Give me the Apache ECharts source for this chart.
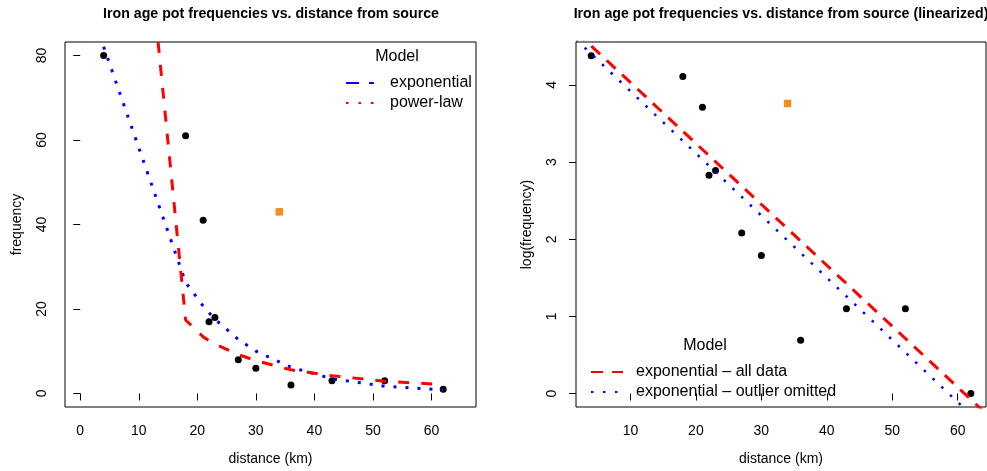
<!DOCTYPE html>
<html><head><meta charset="utf-8">
<script src="https://cdn.jsdelivr.net/npm/echarts@6/dist/echarts.min.js"></script>
<style>html,body{margin:0;padding:0;background:#fff}#c{width:987px;height:471px}</style>
</head><body><div id="c"></div>
<script>
// observed data (distance km, pot frequency)
const distance = [4, 18, 21, 22, 23, 27, 30, 36, 43, 52, 62];
const frequency = [80, 61, 41, 17, 18, 8, 6, 2, 3, 3, 1];
const logFrequency = [4.38, 4.11, 3.71, 2.83, 2.89, 2.08, 1.79, 0.69, 1.10, 1.10, 0];
// outlier
const outlierDistance = [34];
const outlierFrequency = [43];
const outlierLogFrequency = [3.76];
// fitted curves
const expCurveDistance = [4, 18, 21, 22, 23, 27, 30, 36, 43, 52, 62];
const expCurveFrequency = [82.1, 26.3, 20.7, 19.1, 17.6, 12.8, 10.0, 6.2, 3.5, 1.7, 0.85];
const powCurveDistance = [13.3, 18, 21, 22, 23, 27, 30, 34, 36, 43, 52, 62];
const powCurveFrequency = [83.2, 17.4, 13.4, 12.5, 11.7, 9.2, 7.8, 6.3, 5.6, 4.2, 2.9, 2.1];
// fitted straight lines (end points at the panel edges)
const fitAllDistance = [1.68, 64.32];
const fitAllLog = [4.69, -0.26];
const fitOmitDistance = [1.68, 64.32];
const fitOmitLog = [4.59, -0.46];
// tick labels
const xTicksLeft = [0, 10, 20, 30, 40, 50, 60];
const yTicksLeft = [0, 20, 40, 60, 80];
const xTicksRight = [10, 20, 30, 40, 50, 60];
const yTicksRight = [0, 1, 2, 3, 4];

const FONT = "'Liberation Sans', Arial, Helvetica, sans-serif";
const pairs = (xs, ys) => xs.map((x, i) => [x, ys[i]]);
const chart = echarts.init(document.getElementById('c'), null, {renderer: 'canvas'});

function axis(extra) {
  return Object.assign({
    type: 'value', axisLine: {show: false}, splitLine: {show: false},
    nameLocation: 'middle',
    nameTextStyle: {color: '#000', fontSize: 14, fontFamily: FONT}
  }, extra);
}
const lbl = (vals, extra) => Object.assign({customValues: vals, color: '#000', fontSize: 14, fontFamily: FONT}, extra);
const tk = (vals) => ({show: true, inside: false, length: 7, customValues: vals, lineStyle: {color: '#000', width: 1}});

const titleStyle = {fontSize: 14.2, fontWeight: 'bold', color: '#000', fontFamily: FONT};
const modelStyle = {fontSize: 16, fontWeight: 'normal', color: '#000', fontFamily: FONT};
const legendText = (pad) => ({fontSize: 16, color: '#000', fontFamily: FONT, padding: [0, 0, 0, pad]});
const hiddenSymbol = {color: 'transparent', borderWidth: 0, opacity: 0};

chart.setOption({
  animation: false,
  backgroundColor: '#fff',
  title: [
    {text: 'Iron age pot frequencies vs. distance from source', left: 271, top: 7, textAlign: 'center', padding: 0, textStyle: titleStyle},
    {text: 'Iron age pot frequencies vs. distance from source (linearized)', left: 781, top: 7, textAlign: 'center', padding: 0, textStyle: titleStyle},
    {text: 'Model', left: 397, top: 49, textAlign: 'center', padding: 0, textStyle: modelStyle},
    {text: 'Model', left: 705, top: 338, textAlign: 'center', padding: 0, textStyle: modelStyle}
  ],
  grid: [
    {left: 65, top: 42, width: 411, height: 367, show: true, borderColor: '#000', borderWidth: 1, backgroundColor: 'transparent'},
    {left: 576, top: 42, width: 410, height: 367, show: true, borderColor: '#000', borderWidth: 1, backgroundColor: 'transparent'}
  ],
  xAxis: [
    axis({gridIndex: 0, min: -2.6, max: 67.6, name: 'distance (km)', nameGap: 45,
      axisTick: tk(xTicksLeft), axisLabel: lbl(xTicksLeft, {margin: 17})}),
    axis({gridIndex: 1, min: 1.68, max: 64.32, name: 'distance (km)', nameGap: 45,
      axisTick: tk(xTicksRight), axisLabel: lbl(xTicksRight, {margin: 17})})
  ],
  yAxis: [
    axis({gridIndex: 0, min: -3.2, max: 83.2, name: 'frequency', nameGap: 41,
      axisTick: tk(yTicksLeft), axisLabel: lbl(yTicksLeft, {rotate: 90, margin: 16})}),
    axis({gridIndex: 1, min: -0.175, max: 4.557, name: 'log(frequency)', nameGap: 42,
      axisTick: tk(yTicksRight), axisLabel: lbl(yTicksRight, {rotate: 90, margin: 17})})
  ],
  legend: [
    {data: ['exponential', 'power-law'], orient: 'vertical', left: 345, top: 75, padding: 0,
      itemWidth: 28, itemHeight: 14, itemGap: 4, selectedMode: false,
      itemStyle: hiddenSymbol, textStyle: legendText(11)},
    {data: ['exponential \u2013 all data', 'exponential \u2013 outlier omitted'], orient: 'vertical', left: 590, top: 364, padding: 0,
      itemWidth: 32, itemHeight: 14, itemGap: 4, selectedMode: false,
      itemStyle: hiddenSymbol, textStyle: legendText(8)}
  ],
  series: [
    {type: 'scatter', name: 'sites', xAxisIndex: 0, yAxisIndex: 0, data: pairs(distance, frequency),
      symbol: 'circle', symbolSize: 7, itemStyle: {color: '#000', opacity: 1}, z: 2},
    {type: 'scatter', name: 'outlier', xAxisIndex: 0, yAxisIndex: 0, data: pairs(outlierDistance, outlierFrequency),
      symbol: 'rect', symbolSize: 7.5, itemStyle: {color: '#f28e1f', opacity: 1}, z: 2},
    {type: 'line', name: 'exp curve', xAxisIndex: 0, yAxisIndex: 0, data: pairs(expCurveDistance, expCurveFrequency),
      symbol: 'none', showSymbol: false, lineStyle: {color: '#0000ff', width: 3, type: [3, 9]}, z: 3, clip: true},
    {type: 'line', name: 'power curve', xAxisIndex: 0, yAxisIndex: 0, data: pairs(powCurveDistance, powCurveFrequency),
      symbol: 'none', showSymbol: false, lineStyle: {color: '#ff0000', width: 3, type: [11, 12]}, z: 3, clip: true},
    {type: 'line', name: 'exponential', xAxisIndex: 0, yAxisIndex: 0, data: [], symbol: 'none',
      itemStyle: {color: '#0000ff'}, lineStyle: {color: '#0000ff', width: 3, type: [13, 10]}},
    {type: 'line', name: 'power-law', xAxisIndex: 0, yAxisIndex: 0, data: [], symbol: 'none',
      itemStyle: {color: '#ff0000'}, lineStyle: {color: '#ff0000', width: 2.5, type: [2.5, 10]}},
    {type: 'scatter', name: 'sites (log)', xAxisIndex: 1, yAxisIndex: 1, data: pairs(distance, logFrequency),
      symbol: 'circle', symbolSize: 7, itemStyle: {color: '#000', opacity: 1}, z: 2},
    {type: 'scatter', name: 'outlier (log)', xAxisIndex: 1, yAxisIndex: 1, data: pairs(outlierDistance, outlierLogFrequency),
      symbol: 'rect', symbolSize: 7.5, itemStyle: {color: '#f28e1f', opacity: 1}, z: 2},
    {type: 'line', name: 'exponential \u2013 all data', xAxisIndex: 1, yAxisIndex: 1, data: pairs(fitAllDistance, fitAllLog),
      symbol: 'none', showSymbol: false, itemStyle: {color: '#ff0000'}, lineStyle: {color: '#ff0000', width: 3, type: [12, 9]}, z: 3, clip: true},
    {type: 'line', name: 'exponential \u2013 outlier omitted', xAxisIndex: 1, yAxisIndex: 1, data: pairs(fitOmitDistance, fitOmitLog),
      symbol: 'none', showSymbol: false, itemStyle: {color: '#0000ff'}, lineStyle: {color: '#0000ff', width: 2.5, type: [2.5, 9.5]}, z: 3, clip: true}
  ]
});
</script></body></html>
